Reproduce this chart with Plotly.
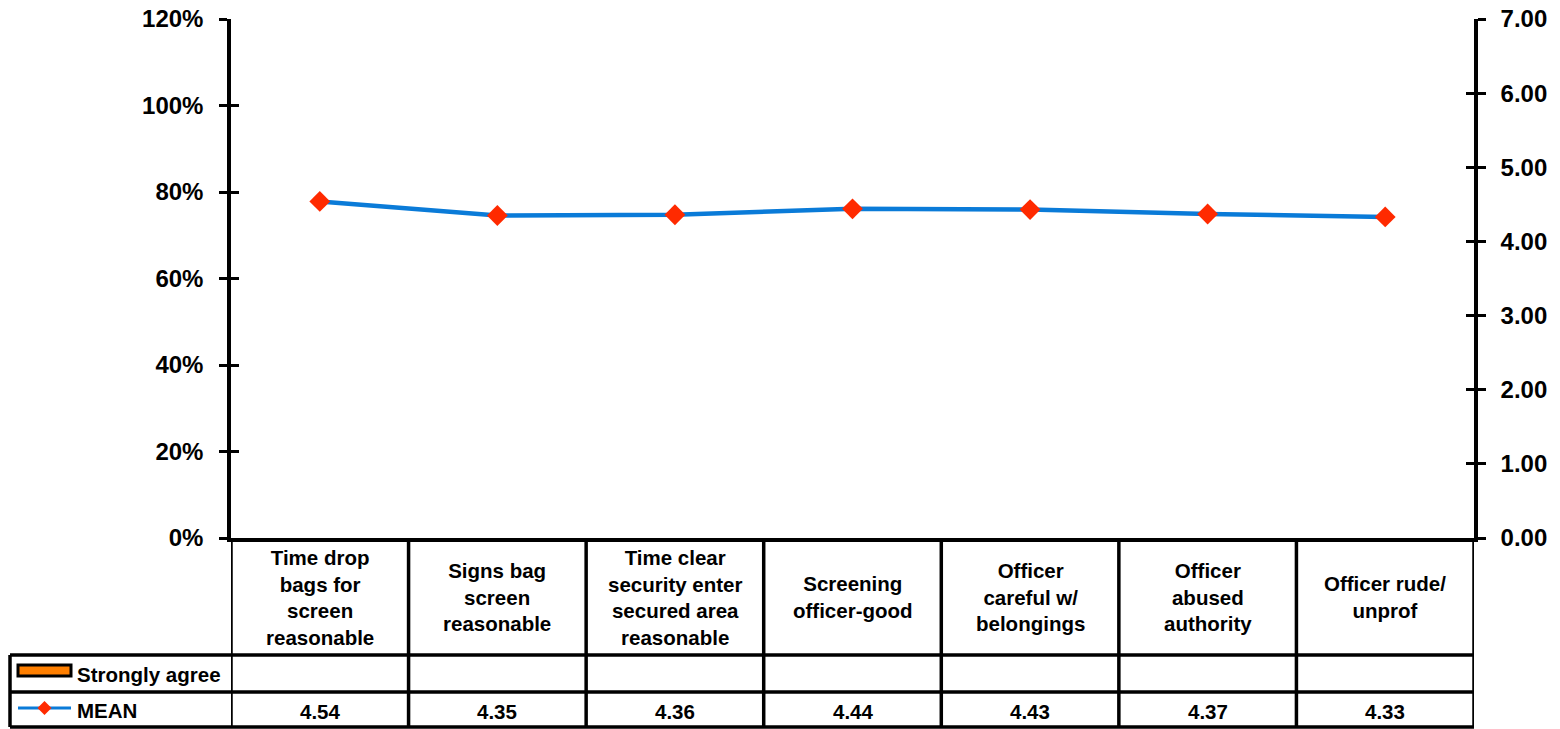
import plotly.graph_objects as go

# ---- data ----
categories = [
    "Time drop<br>bags for<br>screen<br>reasonable",
    "Signs bag<br>screen<br>reasonable",
    "Time clear<br>security enter<br>secured area<br>reasonable",
    "Screening<br>officer-good",
    "Officer<br>careful w/<br>belongings",
    "Officer<br>abused<br>authority",
    "Officer rude/<br>unprof",
]
strongly_agree = [None, None, None, None, None, None, None]
mean_values = [4.54, 4.35, 4.36, 4.44, 4.43, 4.37, 4.33]
series_names = ["Strongly agree", "MEAN"]
pct_ticks = [0, 0.2, 0.4, 0.6, 0.8, 1.0, 1.2]
mean_ticks = [0, 1, 2, 3, 4, 5, 6, 7]

# ---- page geometry (pixels) ----
W, H = 1560, 729
L, R, T, B = 231, 1474, 19, 538
PH = B - T
PW = R - L


def px_x(x):
    return (x - L) / PW


def px_y(y):
    return (B - y) / PH


FONT = "Liberation Sans, Arial, sans-serif"
BLUE = "#0a7bd8"
RED = "#ff2a00"
ORANGE = "#ff7f00"
LW = 3.5

idx = list(range(len(categories)))

fig = go.Figure()
# percentage series (no values) on the left axis
fig.add_trace(go.Bar(
    x=idx, y=strongly_agree, yaxis="y", name=series_names[0],
    marker=dict(color=ORANGE, line=dict(color="black", width=2)),
    showlegend=False, hoverinfo="skip",
))
# tick-only overlay axes (inner half of the crossing ticks)
fig.add_trace(go.Scatter(x=[None], y=[None], yaxis="y3", showlegend=False,
                         hoverinfo="skip"))
fig.add_trace(go.Scatter(x=[None], y=[None], yaxis="y4", showlegend=False,
                         hoverinfo="skip"))
# mean line on the right axis
fig.add_trace(go.Scatter(
    x=idx, y=mean_values, yaxis="y2", mode="lines+markers",
    name=series_names[1],
    line=dict(color=BLUE, width=4.5),
    marker=dict(symbol="diamond", size=16, color=RED),
    showlegend=False, hoverinfo="skip",
))

shapes = []
annotations = []

# data table under the plot: row boundaries
row_top, row_mid, row_bot = px_y(655), px_y(692), px_y(727)
for yy in (row_top, row_mid, row_bot):
    shapes.append(dict(type="line", xref="paper", yref="paper",
                       x0=px_x(10), x1=1, y0=yy, y1=yy,
                       line=dict(color="black", width=LW)))
# column boundaries
for k in range(len(categories) + 1):
    shapes.append(dict(type="line", xref="x", yref="paper",
                       x0=k - 0.5, x1=k - 0.5, y0=0, y1=row_bot,
                       line=dict(color="black", width=LW)))
shapes.append(dict(type="line", xref="paper", yref="paper",
                   x0=px_x(10), x1=px_x(10), y0=row_top, y1=row_bot,
                   line=dict(color="black", width=LW)))

# legend keys in the table
shapes.append(dict(type="rect", xref="paper", yref="paper",
                   x0=px_x(18), x1=px_x(71), y0=px_y(665), y1=px_y(676),
                   fillcolor=ORANGE, line=dict(color="black", width=3)))
shapes.append(dict(type="line", xref="paper", yref="paper",
                   x0=px_x(18), x1=px_x(71), y0=px_y(708), y1=px_y(708),
                   line=dict(color=BLUE, width=3)))
cx, cy, d = 44.5, 708, 7
shapes.append(dict(
    type="path", xref="paper", yref="paper",
    path=(f"M {px_x(cx)} {px_y(cy - d)} L {px_x(cx + d)} {px_y(cy)} "
          f"L {px_x(cx)} {px_y(cy + d)} L {px_x(cx - d)} {px_y(cy)} Z"),
    fillcolor=RED, line=dict(color=RED, width=0)))

cell_font = dict(size=20.5, family=FONT, color="black", weight="bold")
# category headers
for i, c in enumerate(categories):
    annotations.append(dict(x=i, y=px_y(597), xref="x", yref="paper",
                            yanchor="middle", text=c, showarrow=False,
                            font=cell_font))
# MEAN values
for i, v in enumerate(mean_values):
    annotations.append(dict(x=i, y=px_y(711), xref="x", yref="paper",
                            yanchor="middle", text=f"{v:.2f}", showarrow=False,
                            font=cell_font))
# row labels
for name, yc in zip(series_names, (674, 710)):
    annotations.append(dict(x=px_x(75), y=px_y(yc), xref="paper", yref="paper",
                            yanchor="middle", xanchor="left",
                            text=name, showarrow=False, font=cell_font))

tickfont = dict(size=24, family=FONT, color="black", weight="bold")
axis_common = dict(showgrid=False, zeroline=False, ticklen=8, tickwidth=3,
                   tickcolor="black", automargin=False)

fig.update_layout(
    width=W, height=H,
    margin=dict(l=L, r=W - R, t=T, b=H - B),
    paper_bgcolor="white", plot_bgcolor="white",
    font=dict(family=FONT, color="black", weight="bold"),
    showlegend=False,
    xaxis=dict(range=[-0.5, len(categories) - 0.5], showticklabels=False,
               ticks="", showline=True, linecolor="black", linewidth=LW,
               showgrid=False, zeroline=False, fixedrange=True,
               automargin=False),
    yaxis=dict(range=[0, 1.2], tickvals=pct_ticks, tickformat=".0%",
               ticks="outside", showline=True, linecolor="black", linewidth=LW,
               tickfont=tickfont, ticklabelstandoff=11, **axis_common),
    yaxis2=dict(range=[0, 7], tickvals=mean_ticks, tickformat=".2f",
                overlaying="y", side="right", anchor="x",
                ticks="outside", showline=True, linecolor="black", linewidth=LW,
                tickfont=tickfont, ticklabelstandoff=10, **axis_common),
    yaxis3=dict(range=[0, 1.2], tickvals=pct_ticks, overlaying="y", side="left",
                anchor="x", ticks="inside", showticklabels=False, showline=False,
                **axis_common),
    yaxis4=dict(range=[0, 7], tickvals=mean_ticks, overlaying="y", side="right",
                anchor="x", ticks="inside", showticklabels=False, showline=False,
                **axis_common),
    shapes=shapes,
    annotations=annotations,
)

fig.write_html("out.html")
